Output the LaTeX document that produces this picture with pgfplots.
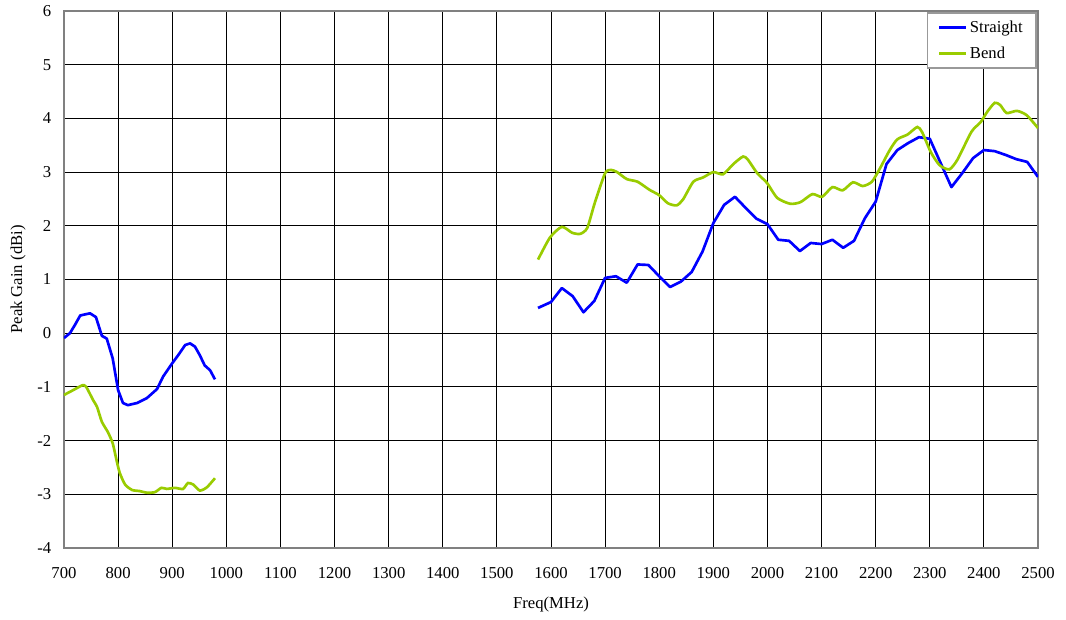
\documentclass[border=0pt]{standalone}
\usepackage{pgfplots}
\pgfplotsset{compat=1.18}
\usepackage{fontspec}
\setmainfont{Liberation Serif}
\definecolor{sblue}{RGB}{0,0,255}
\definecolor{bgreen}{RGB}{153,204,0}
\begin{document}
\begin{tikzpicture}[x=1pt,y=1pt]
\useasboundingbox (-48pt,-54pt) rectangle (751.5pt,411pt);
\begin{axis}[
  scale only axis,
  width=730.5pt, height=402.75pt,
  at={(0,0)}, anchor=south west,
  xmin=700, xmax=2500, ymin=-4, ymax=6,
  xtick={700,800,...,2500},
  xticklabels={700,800,900,1000,1100,1200,1300,1400,1500,1600,1700,1800,1900,2000,2100,2200,2300,2400,2500},
  ytick={-4,-3,...,6},
  yticklabels={-4,-3,-2,-1,0,1,2,3,4,5,6},
  major tick length=0pt,
  grid=major,
  major grid style={black, line width=0.75pt},
  axis line style={gray, line width=1pt},
  every tick label/.append style={font=\fontsize{12.5}{14}\selectfont},
  xticklabel style={yshift=-11pt},
  yticklabel style={xshift=-6pt},
  xlabel={Freq(MHz)}, ylabel={Peak Gain (dBi)},
  label style={font=\fontsize{12.5}{14}\selectfont},
  xlabel style={at={(axis description cs:0.5,-0.106)}, anchor=center},
  ylabel style={at={(axis description cs:-0.0472,0.5)}, anchor=center, rotate=0},
  legend style={at={(1,1)}, anchor=north east, xshift=-1pt, yshift=-1pt,
    draw=gray!80, line width=1pt, font=\fontsize{12.5}{14}\selectfont,
    inner xsep=8pt, inner ysep=4pt, row sep=5pt},
  legend cell align=left,
  legend image code/.code={\draw[#1, line width=2pt] (0pt,0pt) -- (20pt,0pt);},
]
\addplot[sblue, line width=2pt, line join=round] coordinates {
(700,-0.09)(711,0)(720,0.15)(730,0.33)(748,0.37)(759,0.3)(770,-0.05)(779,-0.1)(790,-0.47)(800,-1.06)(809,-1.3)(818,-1.34)(835,-1.3)(853,-1.21)(872,-1.04)(883,-0.81)(900,-0.56)(911,-0.41)(924,-0.22)(933,-0.19)(942,-0.25)(951,-0.41)(960,-0.6)(970,-0.69)(979,-0.86)
};
\addlegendentry{Straight}
\addplot[bgreen, line width=2pt, smooth, tension=0.4] coordinates {
(700,-1.15)(717,-1.06)(734,-0.97)(741,-1.0)(754,-1.25)(761,-1.37)(770,-1.65)(781,-1.84)(790,-2.05)(797,-2.36)(803,-2.6)(813,-2.82)(826,-2.92)(840,-2.94)(853,-2.97)(868,-2.96)(880,-2.88)(890,-2.9)(905,-2.88)(920,-2.9)(929,-2.79)(939,-2.82)(951,-2.93)(964,-2.87)(979,-2.7)
};
\addlegendentry{Bend}
\addplot[sblue, line width=2pt, line join=round, forget plot] coordinates {
(1576,0.47)(1600,0.58)(1620,0.84)(1640,0.69)(1660,0.39)(1680,0.6)(1700,1.03)(1720,1.06)(1740,0.94)(1760,1.28)(1780,1.27)(1800,1.06)(1820,0.86)(1840,0.96)(1860,1.14)(1880,1.52)(1900,2.05)(1920,2.39)(1940,2.54)(1960,2.33)(1980,2.13)(2000,2.03)(2020,1.74)(2040,1.72)(2060,1.53)(2080,1.68)(2100,1.66)(2120,1.74)(2140,1.59)(2160,1.72)(2180,2.14)(2200,2.45)(2220,3.15)(2240,3.41)(2260,3.54)(2280,3.65)(2300,3.62)(2320,3.17)(2340,2.72)(2360,2.98)(2380,3.26)(2400,3.41)(2420,3.39)(2440,3.32)(2460,3.24)(2480,3.19)(2500,2.91)
};
\addplot[bgreen, line width=2pt, smooth, tension=0.4, forget plot] coordinates {
(1576,1.37)(1598,1.78)(1620,1.98)(1639,1.87)(1654,1.85)(1667,1.96)(1681,2.43)(1700,2.98)(1711,3.04)(1722,3.0)(1740,2.87)(1760,2.82)(1782,2.67)(1800,2.57)(1816,2.42)(1832,2.38)(1844,2.49)(1863,2.82)(1881,2.9)(1900,3.0)(1918,2.96)(1937,3.15)(1955,3.29)(1964,3.23)(1981,2.98)(1999,2.8)(2018,2.52)(2042,2.41)(2061,2.44)(2083,2.59)(2101,2.54)(2120,2.72)(2139,2.66)(2158,2.81)(2176,2.74)(2193,2.82)(2208,3.07)(2226,3.41)(2240,3.61)(2259,3.7)(2277,3.84)(2286,3.74)(2302,3.37)(2318,3.13)(2336,3.05)(2351,3.23)(2377,3.75)(2394,3.93)(2406,4.12)(2420,4.29)(2430,4.25)(2442,4.1)(2461,4.14)(2479,4.06)(2500,3.82)
};
\end{axis}
\end{tikzpicture}
\end{document}
